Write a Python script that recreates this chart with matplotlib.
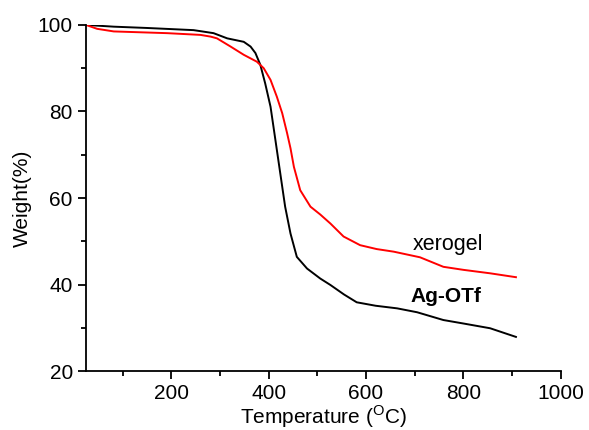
import matplotlib.pyplot as plt

plt.rcParams['font.family'] = ['Liberation Sans', 'DejaVu Sans']

# Ag-OTf (black)
ag_t = [25, 82, 150, 246, 287, 315, 349, 363, 373, 383, 393, 404, 410, 417, 424, 434,
        445, 458, 479, 506, 527, 555, 581, 620, 664, 705, 759, 800, 855, 908]
ag_w = [100, 99.6, 99.3, 98.8, 98.1, 96.9, 96.1, 95.0, 93.5, 90.8, 86.5, 81.1, 76.5,
        71.1, 65.7, 58.0, 51.8, 46.4, 43.7, 41.4, 39.9, 37.7, 35.9, 35.1, 34.5, 33.6,
        31.8, 31.0, 29.9, 27.9]

# xerogel (red)
xg_t = [25, 48, 82, 192, 260, 281, 294, 322, 349, 376, 390, 404, 417, 428, 438, 445,
        452, 465, 486, 506, 527, 554, 588, 622, 657, 711, 759, 800, 855, 908]
xg_w = [100, 99.1, 98.5, 98.1, 97.7, 97.3, 96.9, 95.0, 93.1, 91.5, 90.0, 87.3, 83.4,
        79.6, 75.0, 71.5, 67.2, 61.8, 58.0, 56.2, 54.1, 51.1, 49.1, 48.2, 47.6, 46.3,
        44.1, 43.4, 42.6, 41.7]

fig = plt.figure(figsize=(5.89, 4.30), dpi=100)
ax = fig.add_axes([0.146, 0.137, 0.806, 0.805])

ax.plot(ag_t, ag_w, color='black', lw=1.4)
ax.plot(xg_t, xg_w, color='red', lw=1.4)

ax.text(768, 49.2, 'xerogel', fontsize=15.5, ha='center', va='center')
ax.text(765, 37.2, 'Ag-OTf', fontsize=15, fontweight='bold', ha='center', va='center')

ax.set_xlim(25, 1000)
ax.set_ylim(20, 100)
ax.set_xticks([200, 400, 600, 800, 1000])
ax.set_xticks([100, 300, 500, 700, 900], minor=True)
ax.set_yticks([20, 40, 60, 80, 100])
ax.set_yticks([30, 50, 70, 90], minor=True)

for s in ['top', 'right']:
    ax.spines[s].set_visible(False)
for s in ['left', 'bottom']:
    ax.spines[s].set_linewidth(1.3)

ax.tick_params(which='major', direction='out', length=6, width=1.3, labelsize=15)
ax.tick_params(which='minor', direction='out', length=3.5, width=1.3)

ax.set_xlabel('Temperature ($^\\mathregular{O}$C)', fontsize=15, labelpad=0)
ax.set_ylabel('Weight(%)', fontsize=15, labelpad=4)

fig.savefig('out.png', dpi=100)
